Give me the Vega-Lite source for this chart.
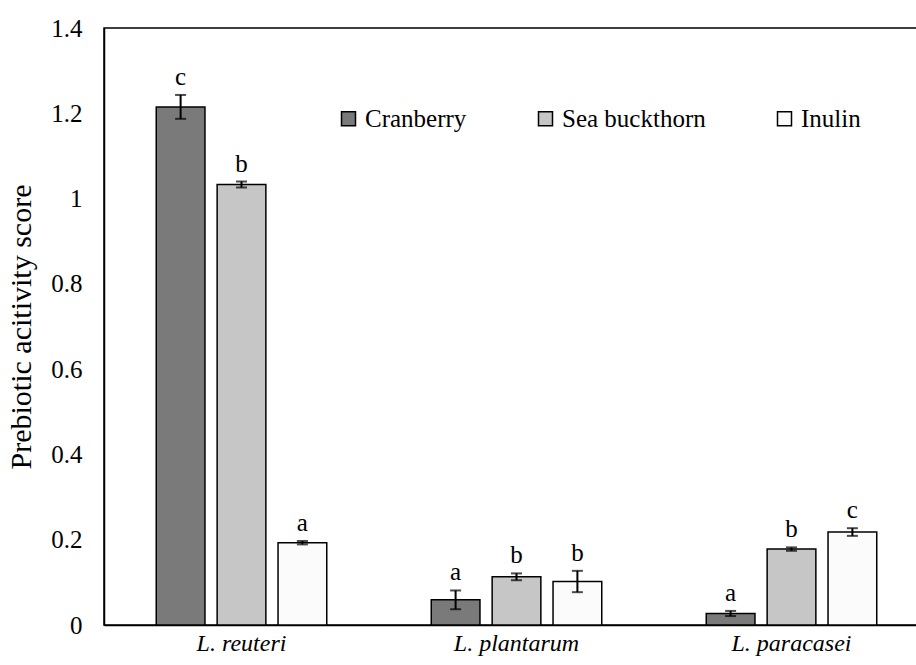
{
  "$schema": "https://vega.github.io/schema/vega-lite/v6.json",
  "autosize": "none",
  "width": 825,
  "height": 597,
  "padding": {"left": 104, "top": 28, "right": 0, "bottom": 40},
  "background": "white",
  "config": {
    "font": "Liberation Serif",
    "view": {"stroke": "black", "strokeWidth": 1.5}
  },
  "data": {
    "values": [
      {"strain": "L. reuteri", "treat": "Cranberry", "value": 1.215, "lo": 1.187, "hi": 1.243, "letter": "c"},
      {"strain": "L. reuteri", "treat": "Sea buckthorn", "value": 1.033, "lo": 1.026, "hi": 1.040, "letter": "b"},
      {"strain": "L. reuteri", "treat": "Inulin", "value": 0.193, "lo": 0.189, "hi": 0.197, "letter": "a"},
      {"strain": "L. plantarum", "treat": "Cranberry", "value": 0.059, "lo": 0.037, "hi": 0.081, "letter": "a"},
      {"strain": "L. plantarum", "treat": "Sea buckthorn", "value": 0.113, "lo": 0.105, "hi": 0.121, "letter": "b"},
      {"strain": "L. plantarum", "treat": "Inulin", "value": 0.102, "lo": 0.077, "hi": 0.127, "letter": "b"},
      {"strain": "L. paracasei", "treat": "Cranberry", "value": 0.027, "lo": 0.021, "hi": 0.033, "letter": "a"},
      {"strain": "L. paracasei", "treat": "Sea buckthorn", "value": 0.178, "lo": 0.174, "hi": 0.182, "letter": "b"},
      {"strain": "L. paracasei", "treat": "Inulin", "value": 0.218, "lo": 0.209, "hi": 0.227, "letter": "c"}
    ]
  },
  "encoding": {
    "x": {
      "field": "strain", "type": "nominal", "sort": null,
      "scale": {"paddingInner": 0.38, "paddingOuter": 0.19},
      "axis": {"title": null, "labelAngle": 0, "labelFont": "Liberation Serif", "labelFontStyle": "italic", "labelFontSize": 24, "labelColor": "black", "labelPadding": 6, "ticks": false, "domainColor": "black", "domainWidth": 1.5}
    },
    "xOffset": {
      "field": "treat", "type": "nominal", "sort": ["Cranberry", "Sea buckthorn", "Inulin"],
      "scale": {"paddingInner": 0.2, "paddingOuter": 0}
    }
  },
  "layer": [
    {
      "mark": {"type": "bar", "stroke": "black", "strokeWidth": 1.5},
      "encoding": {
        "y": {
          "field": "value", "type": "quantitative",
          "scale": {"domain": [0, 1.4], "nice": false},
          "axis": {"title": "Prebiotic acitivity score", "titleFont": "Liberation Serif", "titleFontSize": 30, "titleFontWeight": "normal", "titleColor": "black", "titlePadding": 14, "values": [0, 0.2, 0.4, 0.6, 0.8, 1, 1.2, 1.4], "format": "~g", "labelFont": "Liberation Serif", "labelFontSize": 25, "labelColor": "black", "labelPadding": 22, "ticks": false, "grid": false, "domainColor": "black", "domainWidth": 1.5}
        },
        "fill": {
          "field": "treat", "type": "nominal",
          "scale": {"domain": ["Cranberry", "Sea buckthorn", "Inulin"], "range": ["#7a7a7a", "#c6c6c6", "#fbfbfb"]},
          "legend": {
            "title": null, "orient": "none", "direction": "horizontal", "legendX": 232, "legendY": 78,
            "symbolType": "square", "symbolSize": 196, "symbolStrokeColor": "black", "symbolStrokeWidth": 1.5, "symbolOpacity": 1,
            "labelFont": "Liberation Serif", "labelFontSize": 25, "labelColor": "black", "labelOffset": 4, "columnPadding": 66
          }
        }
      }
    },
    {
      "mark": {"type": "rule", "color": "black", "strokeWidth": 2},
      "encoding": {
        "y": {"field": "lo", "type": "quantitative"},
        "y2": {"field": "hi"}
      }
    },
    {
      "mark": {"type": "tick", "color": "black", "thickness": 2, "size": 11, "orient": "horizontal"},
      "encoding": {"y": {"field": "lo", "type": "quantitative"}}
    },
    {
      "mark": {"type": "tick", "color": "black", "thickness": 2, "size": 11, "orient": "horizontal"},
      "encoding": {"y": {"field": "hi", "type": "quantitative"}}
    },
    {
      "mark": {"type": "text", "font": "Liberation Serif", "fontSize": 25, "color": "black", "baseline": "alphabetic", "dy": -10},
      "encoding": {
        "y": {"field": "hi", "type": "quantitative"},
        "text": {"field": "letter"}
      }
    }
  ]
}
